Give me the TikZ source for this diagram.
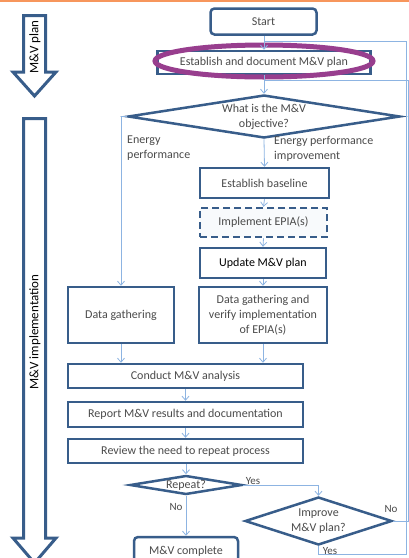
\documentclass[tikz,border=0pt]{standalone}
\usepackage{fontspec}
\setmainfont{Carlito}
\usetikzlibrary{arrows.meta,shapes.geometric}
\definecolor{bord}{RGB}{56,93,138}
\definecolor{conn}{RGB}{141,180,226}
\definecolor{txt}{RGB}{75,75,75}
\definecolor{purp}{RGB}{152,62,142}
\definecolor{orng}{RGB}{247,150,92}
\tikzset{
  box/.style={draw=bord, line width=2.5pt, fill=white, inner sep=0pt, text=txt,
    font=\fontsize{12}{15}\selectfont, align=center},
  dia/.style={draw=bord, line width=2.5pt, fill=white, inner sep=0pt, shape=diamond},
  dtext/.style={text=txt, inner sep=0pt, font=\fontsize{12}{15}\selectfont, align=center},
  lab/.style={text=txt, inner sep=0pt, font=\fontsize{12}{15}\selectfont, align=left},
  yn/.style={text=txt, inner sep=0pt, font=\fontsize{11}{13}\selectfont},
  cn/.style={draw=conn, line width=0.8pt},
  ca/.style={cn, -{Straight Barb[length=4pt,width=7pt]}},
  blk/.style={draw=bord, line width=3pt, fill=white, line join=miter},
  side/.style={text=black, inner sep=0pt, font=\fontsize{13}{15}\selectfont, rotate=90}
}
\begin{document}
\begin{tikzpicture}[x=1pt,y=-1pt]
\useasboundingbox (0,0) rectangle (409,558);
\clip (0,0) rectangle (409,558);
\fill[white] (0,0) rectangle (409,558);
\draw[orng, line width=2pt] (0,1) -- (409,1);

% side block arrows
\draw[blk] (23.5,15.5) -- (45.5,15.5) -- (45.5,72) -- (56,72) -- (34.5,96) -- (13,72) -- (23.5,72) -- cycle;
\node[side] (sp) at (35,47) {M\&V plan};
\draw[blk] (23.5,118.5) -- (45.5,118.5) -- (45.5,538) -- (56,538) -- (34.5,563) -- (13,538) -- (23.5,538) -- cycle;
\node[side] (si) at (35,332) {M\&V implementation};

% nodes
\node[box, rounded corners=4pt, minimum width=106pt, minimum height=26pt] (start) at (263.5,21.5) {Start};
\node[box, minimum width=213pt, minimum height=23pt] (estab) at (264,62.5) {Establish and document M\&V plan};
\node[draw=purp, line width=5pt, shape=ellipse, minimum width=218pt, minimum height=32pt, inner sep=0pt] (hl) at (264,61) {};
\node[dia, minimum width=272pt, minimum height=43pt] (obj) at (264,116.5) {};
\node[dtext] (objt) at (obj.center) {What is the M\&V\\objective?};
\node[box, minimum width=129pt, minimum height=30pt] (base) at (264.5,183) {Establish baseline};
\node[box, dashed, dash pattern=on 7pt off 4pt, fill={rgb,255:red,248;green,250;blue,252}, minimum width=127pt, minimum height=29pt] (impl) at (263.5,222.5) {Implement EPIA(s)};
\node[box, text=black, minimum width=126pt, minimum height=30pt] (upd) at (263,263) {Update M\&V plan};
\node[box, minimum width=106pt, minimum height=56pt] (dg1) at (121,315) {Data gathering};
\node[box, minimum width=128pt, minimum height=56pt] (dg2) at (263,315) {Data gathering and\\verify implementation\\of EPIA(s)};
\node[box, minimum width=235pt, minimum height=24pt] (cond) at (185.5,376) {Conduct M\&V analysis};
\node[box, minimum width=235pt, minimum height=25pt] (rep) at (185.5,414.5) {Report M\&V results and documentation};
\node[box, minimum width=235pt, minimum height=24pt] (rev) at (185.5,451) {Review the need to repeat process};
\node[dia, minimum width=112pt, minimum height=19pt] (rpt) at (186,485) {};
\node[dtext] (rptt) at (rpt.center) {Repeat?};
\node[dia, minimum width=147pt, minimum height=48pt] (imp) at (318.5,521) {};
\node[dtext] (impt) at (imp.center) {Improve\\M\&V plan?};
\node[box, rounded corners=4pt, minimum width=104pt, minimum height=28pt] (done) at (186,551) {M\&V complete};

% labels
\node[lab, anchor=north west] (l1) at (127,135.5) {Energy\\performance};
\node[lab, anchor=north west] (l2) at (274,136.5) {Energy performance\\improvement};
\node[yn] (y1) at (253,481) {Yes};
\node[yn] (n1) at (176,507) {No};
\node[yn] (n2) at (391,509) {No};
\node[yn] (y2) at (330,551) {Yes};

% joins
\coordinate (j1) at (264,41);
\coordinate (j2) at (264,80);
\coordinate (r1) at (408,80);
\coordinate (r2) at (406,41);

% connectors
\draw[ca] (start.south -| j1) -- (estab.north -| j1);
\draw[ca] (estab.south -| j2) -- (obj.north -| j2);
\draw[ca] (obj.west) -| (dg1.north);
\draw[ca] (obj.south) -- (base.north);
\draw[ca] (base.south) -- (impl.north);
\draw[ca] (impl.south) -- (upd.north);
\draw[ca] (upd.south) -- (dg2.north);
\draw[ca] (dg1.south) -- (dg1.south |- cond.north);
\draw[ca] (dg2.south) -- (dg2.south |- cond.north);
\draw[ca] (cond.south -| rep.north) -- (rep.north);
\draw[ca] (rep.south) -- (rev.north);
\draw[ca] (rev.south -| rpt.north) -- (rpt.north);
\draw[ca] (rpt.east) -| (imp.north);
\draw[ca] (rpt.south) -- (done.north);
\draw[cn] (imp.east) -| (r1) -- (j2);
\draw[cn] (imp.south) -- ++(0,8) -| (r2) -- (j1);
\end{tikzpicture}
\end{document}
